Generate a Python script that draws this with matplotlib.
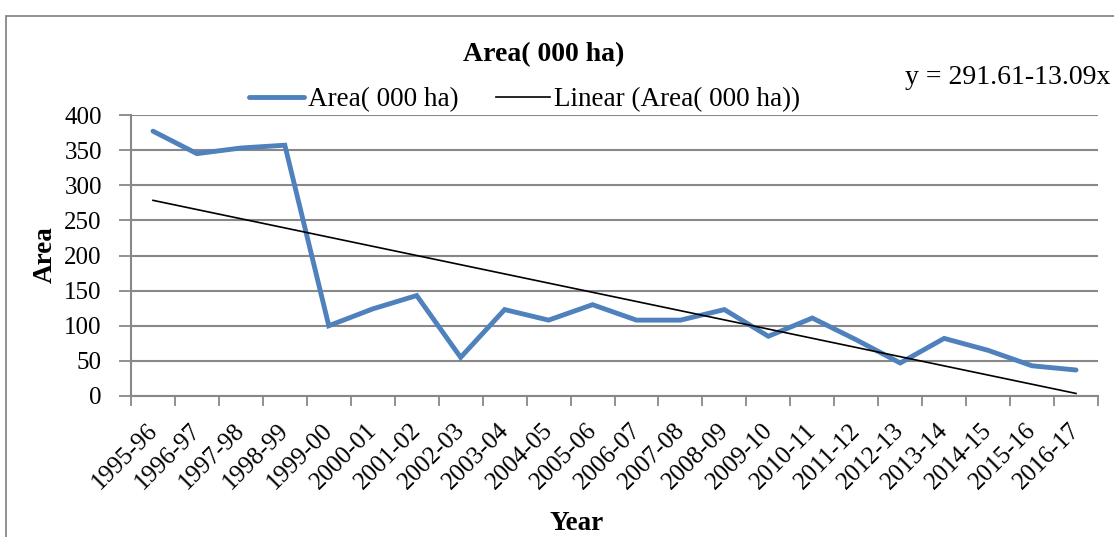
import matplotlib.pyplot as plt
from matplotlib.patches import Rectangle
from matplotlib.transforms import ScaledTranslation

# area under the crop, thousand hectares
years = [
    '1995-96', '1996-97', '1997-98', '1998-99', '1999-00', '2000-01',
    '2001-02', '2002-03', '2003-04', '2004-05', '2005-06', '2006-07',
    '2007-08', '2008-09', '2009-10', '2010-11', '2011-12', '2012-13',
    '2013-14', '2014-15', '2015-16', '2016-17'
]
area = [377, 345, 353, 357, 100, 124, 143, 55, 123, 108, 130,
        108, 108, 123, 85, 111, 80, 47, 82, 65, 43, 37]

# fitted linear trend: y = a + b*x, x = 1..n
trend_a = 291.61
trend_b = -13.09
y_ticks = [0, 50, 100, 150, 200, 250, 300, 350, 400]

plt.rcParams['font.family'] = ['Liberation Serif', 'DejaVu Serif']

grey = '#888888'
blue = '#4F81BD'

fig = plt.figure(figsize=(11.14, 5.37), dpi=100)
ax = fig.add_axes([131 / 1114, 1 - 396 / 537, (1098 - 131) / 1114, (396 - 115) / 537])

n = len(years)
xs = [i + 0.5 for i in range(n)]
trend = [trend_a + trend_b * (i + 1) for i in range(n)]

ax.plot(xs, area, color=blue, lw=3.5, solid_joinstyle='miter',
        solid_capstyle='round', label='Area( 000 ha)', zorder=3)
ax.plot(xs, trend, color='black', lw=1.2, label='Linear (Area( 000 ha))', zorder=4)

ax.set_xlim(0, n)
ax.set_ylim(0, 400)
ax.set_yticks(y_ticks)
ax.set_yticklabels([str(v) for v in y_ticks], fontsize=18)
ax.yaxis.grid(True, color=grey, lw=1.5)
ax.set_axisbelow(True)

# category boundaries carry the tick marks, centres carry the labels
ax.set_xticks(range(n + 1))
ax.set_xticklabels([])
ax.set_xticks(xs, minor=True)
ax.set_xticklabels(years, minor=True, rotation=45, ha='right', va='top',
                   rotation_mode='anchor', fontsize=18)
ax.tick_params(axis='x', which='major', length=7, width=1.3, color=grey, direction='out')
ax.tick_params(axis='x', which='minor', length=0, pad=17)
ax.tick_params(axis='y', length=9, width=1.3, color=grey, pad=12)

# nudge the slanted year labels a little to the left
nudge = ScaledTranslation(-0.07, 0, fig.dpi_scale_trans)
for lbl in ax.get_xticklabels(minor=True):
    lbl.set_transform(lbl.get_transform() + nudge)

for side in ['top', 'right']:
    ax.spines[side].set_visible(False)
for side in ['left', 'bottom']:
    ax.spines[side].set_color(grey)
    ax.spines[side].set_linewidth(1.5)

fig.text(544 / 1114, 1 - 55 / 537, 'Area( 000 ha)', ha='center', va='center',
         fontsize=20, fontweight='bold')
fig.text(1110 / 1114, 1 - 78 / 537, 'y = 291.61-13.09x', ha='right', va='center',
         fontsize=20)
fig.text(577 / 1114, 1 - 523 / 537, 'Year', ha='center', va='center',
         fontsize=19.5, fontweight='bold')
fig.text(45 / 1114, 1 - 255 / 537, 'Area', ha='center', va='center',
         rotation=90, fontsize=19.5, fontweight='bold')

ax.legend(loc='center', bbox_to_anchor=(525 / 1114, 1 - 100 / 537),
          bbox_transform=fig.transFigure, ncol=2, frameon=False, fontsize=19.5,
          handlelength=2.0, handletextpad=0.15, columnspacing=1.4,
          borderpad=0, borderaxespad=0)

# chart frame running off the right and bottom edges
fig.patches.append(Rectangle((6 / 1114, -0.1), 1.2, 1.1 - 16 / 537,
                             transform=fig.transFigure, fill=False,
                             edgecolor=grey, lw=1.3))

fig.savefig('out.png', dpi=100)
